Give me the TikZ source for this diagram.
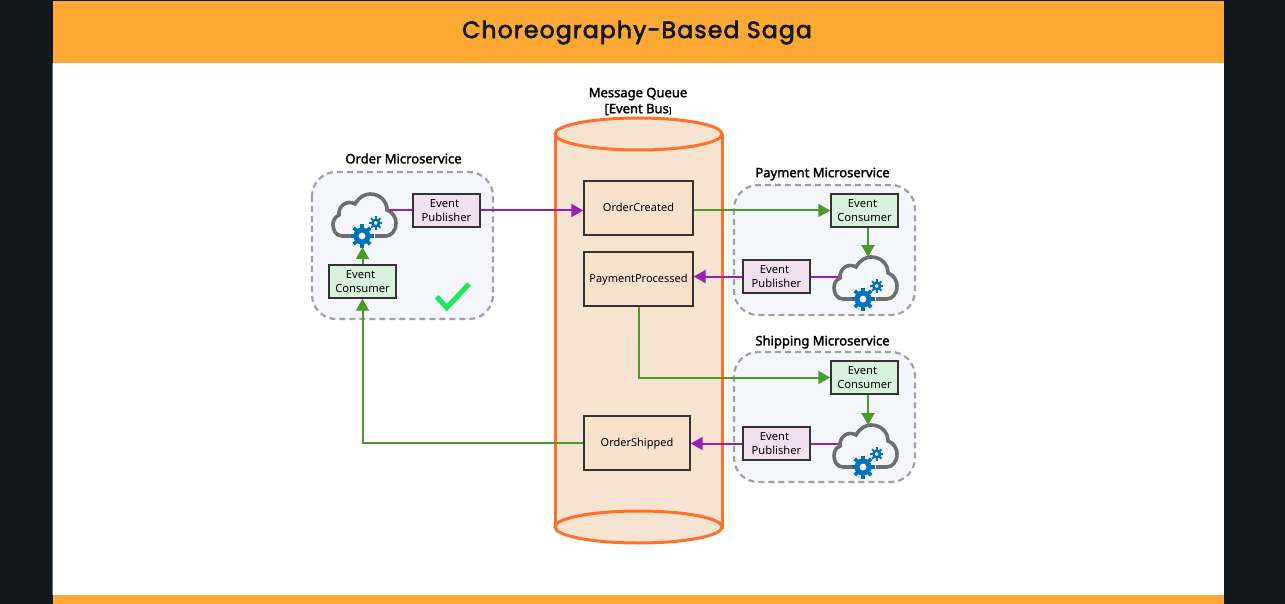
\documentclass[tikz,border=0pt]{standalone}
\usepackage{fontspec}
\usepackage{xcolor}
\usetikzlibrary{arrows.meta}
\setmainfont{Noto Sans}
\newfontfamily\titlefont[LetterSpace=5,FakeBold=3]{Poppins}
\newfontfamily\headfont[FakeBold=2]{Noto Sans}

\definecolor{pagedark}{HTML}{13181E}
\definecolor{bandorange}{HTML}{FFA935}
\definecolor{queueline}{HTML}{FF7029}
\definecolor{queuefill}{HTML}{F7E3D1}
\definecolor{groupfill}{HTML}{F5F5FC}
\definecolor{groupline}{HTML}{A0A0A6}
\definecolor{consfill}{HTML}{D8F2DC}
\definecolor{pubfill}{HTML}{F1E0F2}
\definecolor{topicfill}{HTML}{F9E2CC}
\definecolor{boxline}{HTML}{333333}
\definecolor{consline}{HTML}{4C9A2A}
\definecolor{publine}{HTML}{9C1FB0}
\definecolor{cloudgrey}{HTML}{6D6E71}
\definecolor{gearblue}{HTML}{0072BC}
\definecolor{tickgreen}{HTML}{1DE85A}

\tikzset{
    eventbox/.style={draw=boxline, line width=1.4, minimum width=67, minimum height=33, inner sep=0,
        align=center, font=\fontsize{11.2}{13.8}\selectfont},
    consbox/.style={eventbox, fill=consfill},
    pubbox/.style={eventbox, fill=pubfill},
    topicbox/.style={draw=boxline, line width=1.4, fill=topicfill, minimum height=54, inner sep=0,
        text height=8, text depth=1, font=\fontsize{11}{13.8}\selectfont},
    grouptitle/.style={font=\headfont\fontsize{13}{16}\selectfont, align=center, inner sep=0},
    groupbox/.style={draw=groupline, fill=groupfill, line width=2.2, rounded corners=24, dash pattern=on 6 off 4},
    consflow/.style={draw=consline, line width=2, -{Triangle[length=12,width=13]}},
    pubflow/.style={draw=publine, line width=2, -{Triangle[length=12,width=13]}},
    pubstub/.style={draw=publine, line width=2},
    pics/cloudicon/.style={code={
        \draw[cloudgrey, line width=3.6] (19,43) -- (10,43) .. controls (4,43) and (1,37) .. (1,32)
            .. controls (1,27) and (3,24) .. (7,22) .. controls (6,14) and (14,6) .. (23,11)
            .. controls (27,4) and (33,1) .. (38,1) .. controls (48,1) and (55,8) .. (55,17)
            .. controls (61,19) and (64,25) .. (64,30) .. controls (64,38) and (59,43) .. (54,43) -- (43,43);
        % big gear
        \draw[gearblue, line width=5] (30,43) circle (6);
        \foreach \a in {0,45,...,315}
            \draw[gearblue, line width=3.6] (30,43) ++(\a:7.5) -- ++(\a:4);
        % small gear
        \draw[gearblue, line width=2.6] (43.7,30) circle (3.3);
        \foreach \a in {0,45,...,315}
            \draw[gearblue, line width=2] (43.7,30) ++(\a:4) -- ++(\a:2.6);
        \coordinate (-west) at (5,18);
        \coordinate (-east) at (57,18);
        \coordinate (-top) at (35,1);
        \coordinate (-gear) at (30,54);
    }},
}

\begin{document}
\begin{tikzpicture}[x=1pt, y=-1pt]
    \useasboundingbox (0,0) rectangle (1285,604);

    % Page and panel
    \fill[pagedark] (0,0) rectangle (1285,604);
    \fill[white] (53,63) rectangle (1224,595);
    \fill[bandorange] (53,1) rectangle (1224,63);
    \fill[bandorange] (53,595) rectangle (1224,604);
    \fill[cloudgrey] (52,63) rectangle (53,595);
    \node[inner sep=0, font=\titlefont\fontsize{23.5}{30}\selectfont, text=pagedark] (pagetitle) at (637,32.5) {Choreography-Based Saga};

    % Message queue
    \draw[queueline, fill=queuefill, line width=3] (555,134) -- (555,527) -- (722,527) -- (722,134);
    \draw[queueline, fill=queuefill, line width=3] (638.5,527) ellipse [x radius=83.5, y radius=16];
    \draw[queueline, fill=queuefill, line width=3] (638.5,134) ellipse [x radius=83.5, y radius=16];
    \node[grouptitle] (queuetitle) at (638,101.5) {Message Queue\\{}[Event Bus{\fontsize{8}{10}\selectfont ]}};

    \node[topicbox, minimum width=109] (orderCreated) at (638.5,208) {OrderCreated};
    \node[topicbox, minimum width=109] (paymentProcessed) at (638.5,279) {PaymentProcessed};
    \node[topicbox, minimum width=106] (orderShipped) at (637,443) {OrderShipped};

    % Order service
    \draw[groupbox] (312,172) rectangle (493,319);
    \node[grouptitle] (orderTitle) at (403.5,158.5) {Order Microservice};
    \pic (orderCloud) at (332,193) {cloudicon};
    \node[pubbox] (orderPub) at (446.5,210.5) {Event\kern4pt\\Publisher};
    \node[consbox] (orderCons) at (362.5,281.5) {Event\kern4pt\\Consumer};
    \draw[tickgreen, line width=5] (436.7,296.7) -- (446.7,307.7) -- (469,284);

    % Payment service
    \draw[groupbox] (734,185) rectangle (915,315);
    \node[grouptitle] (paymentTitle) at (822.5,174) {Payment Microservice};
    \pic (paymentCloud) at (833,256) {cloudicon};
    \node[consbox] (paymentCons) at (864.5,210.5) {Event\kern4pt\\Consumer};
    \node[pubbox] (paymentPub) at (776.5,276.5) {Event\kern4pt\\Publisher};

    % Shipping service
    \draw[groupbox] (734,352) rectangle (915,482);
    \node[grouptitle] (shippingTitle) at (822.5,342) {Shipping Microservice};
    \pic (shippingCloud) at (833,424) {cloudicon};
    \node[consbox] (shippingCons) at (864.5,377.5) {Event\kern4pt\\Consumer};
    \node[pubbox] (shippingPub) at (776.5,443.5) {Event\kern4pt\\Publisher};

    % Flows
    \draw[pubstub] (orderCloud-east |- orderPub.west) -- (orderPub.west);
    \draw[pubflow] (orderPub.east) -- (orderPub.east -| orderCreated.west);
    \draw[consflow] (paymentCons.west -| orderCreated.east) -- (paymentCons.west);
    \draw[consflow] (paymentCons.south -| paymentCloud-top) -- (paymentCloud-top);
    \draw[pubstub] (paymentCloud-west |- paymentPub.east) -- (paymentPub.east);
    \draw[pubflow] (paymentPub.west) -- (paymentPub.west -| paymentProcessed.east);
    \draw[consflow] (paymentProcessed.south) |- (shippingCons.west);
    \draw[consflow] (shippingCons.south -| shippingCloud-top) -- (shippingCloud-top);
    \draw[pubstub] (shippingCloud-west |- shippingPub.east) -- (shippingPub.east);
    \draw[pubflow] (shippingPub.west) -- (shippingPub.west -| orderShipped.east);
    \draw[consflow] (orderShipped.west) -| (orderCons.south);
    \draw[consflow] (orderCons.north) -- (orderCons.north |- orderCloud-gear);
\end{tikzpicture}
\end{document}
